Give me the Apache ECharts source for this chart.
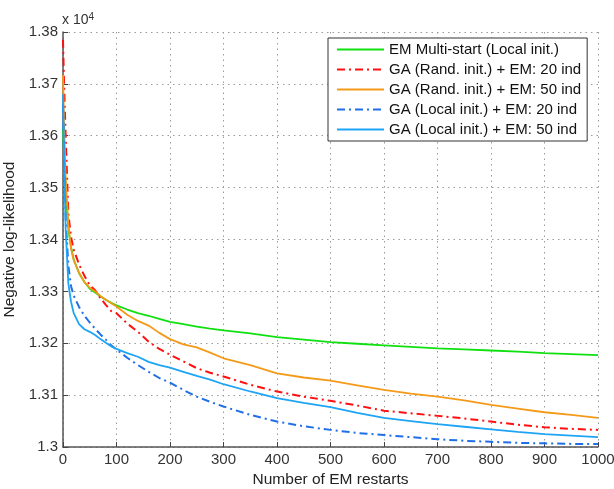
<!DOCTYPE html>
<html>
<head>
<meta charset="utf-8">
<script src="https://cdn.jsdelivr.net/npm/echarts@6/dist/echarts.min.js"></script>
<style>
html,body{margin:0;padding:0;background:#fff;}
#chart{width:614px;height:489px;}
</style>
</head>
<body>
<div id="chart"></div>
<script>
// ---- data (values in units of 1e4) ----
var restarts = [0,2,5,10,15,20,30,40,50,60,70,80,90,100,120,140,160,180,200,225,250,275,300,350,400,450,500,550,600,650,700,750,800,850,900,950,1000];

var emMultiStart = [1.3615,1.3560,1.3490,1.3420,1.3385,1.3362,1.3335,1.3318,1.3305,1.3298,1.3290,1.3284,1.3278,1.3273,1.3265,1.3258,1.3253,1.3247,1.3241,1.3237,1.3232,1.3228,1.3225,1.3219,1.3212,1.3207,1.3202,1.3199,1.3196,1.3193,1.3190,1.3188,1.3186,1.3184,1.3181,1.3179,1.3177];

var gaRand20 = [1.3785,1.3700,1.3600,1.3450,1.3405,1.3380,1.3352,1.3330,1.3312,1.3302,1.3287,1.3274,1.3262,1.3258,1.3238,1.3222,1.3203,1.3189,1.3178,1.3165,1.3152,1.3143,1.3136,1.3120,1.3107,1.3097,1.3089,1.3080,1.3070,1.3065,1.3060,1.3055,1.3049,1.3043,1.3038,1.3035,1.3033];

var gaRand50 = [1.3717,1.3620,1.3520,1.3430,1.3382,1.3360,1.3336,1.3318,1.3307,1.3300,1.3291,1.3284,1.3277,1.3271,1.3255,1.3243,1.3234,1.3220,1.3208,1.3198,1.3192,1.3182,1.3171,1.3158,1.3142,1.3134,1.3128,1.3119,1.3110,1.3103,1.3097,1.3090,1.3081,1.3074,1.3067,1.3062,1.3056];

var gaLocal20 = [1.3660,1.3560,1.3440,1.3350,1.3310,1.3292,1.3270,1.3253,1.3240,1.3228,1.3217,1.3207,1.3196,1.3188,1.3172,1.3158,1.3145,1.3133,1.3124,1.3110,1.3097,1.3087,1.3078,1.3062,1.3049,1.3040,1.3033,1.3027,1.3023,1.3019,1.3015,1.3012,1.3010,1.3008,1.3007,1.3006,1.3006];

var gaLocal50 = [1.3680,1.3560,1.3420,1.3315,1.3280,1.3258,1.3237,1.3227,1.3222,1.3216,1.3208,1.3201,1.3194,1.3189,1.3181,1.3174,1.3164,1.3158,1.3153,1.3145,1.3137,1.3130,1.3121,1.3107,1.3094,1.3085,1.3077,1.3066,1.3056,1.3050,1.3044,1.3039,1.3034,1.3029,1.3025,1.3022,1.3019];

var seriesNames = [
  'EM Multi-start (Local init.)',
  'GA (Rand. init.) + EM: 20 ind',
  'GA (Rand. init.) + EM: 50 ind',
  'GA (Local init.) + EM: 20 ind',
  'GA (Local init.) + EM: 50 ind'
];
var seriesValues = [emMultiStart, gaRand20, gaRand50, gaLocal20, gaLocal50];

var xTicks = [0,100,200,300,400,500,600,700,800,900,1000];
var yTicks = [1.30,1.31,1.32,1.33,1.34,1.35,1.36,1.37,1.38];

// ---- styles ----
var styles = [
  {color:'#10e010', width:1.8, type:'solid'},
  {color:'#ff1010', width:2, type:[8,4,2,4]},
  {color:'#f59a18', width:1.8, type:'solid'},
  {color:'#1f6fe8', width:2, type:[8,4,2,4]},
  {color:'#1ea4f5', width:1.8, type:'solid'}
];

var FONT = '"Liberation Sans", Arial, sans-serif';

function pairs(vals){
  return restarts.map(function(x,i){ return [x, vals[i]]; });
}

var series = seriesNames.map(function(n,i){
  return {
    name:n, type:'line', showSymbol:false, symbol:'none', silent:true,
    data:pairs(seriesValues[i]),
    lineStyle:{color:styles[i].color, width:styles[i].width, type:styles[i].type},
    itemStyle:{color:styles[i].color},
    z: 2 + i
  };
});

var chart = echarts.init(document.getElementById('chart'), null, {renderer:'canvas'});
chart.setOption({
  backgroundColor:'#fff',
  animation:false,
  grid:{left:63, right:16, top:32, bottom:42, containLabel:false, outerBoundsMode:'none'},
  xAxis:{
    type:'value', min:xTicks[0], max:xTicks[xTicks.length-1], interval:100,
    name:'Number of EM restarts', nameLocation:'middle', nameGap:25,
    nameTextStyle:{fontFamily:FONT, fontSize:15.5, color:'#222'},
    axisLine:{show:true, lineStyle:{color:'#555', width:1.5}},
    axisTick:{show:true, inside:true, length:5, lineStyle:{color:'#444'}},
    axisLabel:{fontFamily:FONT, fontSize:15, color:'#333', margin:5,
      formatter:function(v){ return String(v); }},
    splitLine:{show:true, lineStyle:{color:'#9a9a9a', type:[1.5,4], width:1}}
  },
  yAxis:{
    type:'value', min:yTicks[0], max:yTicks[yTicks.length-1], interval:0.01,
    name:'Negative log-likelihood', nameLocation:'middle', nameGap:44, nameRotate:90,
    nameTextStyle:{fontFamily:FONT, fontSize:15.5, color:'#222'},
    axisLine:{show:true, lineStyle:{color:'#555', width:1.5}},
    axisTick:{show:true, inside:true, length:5, lineStyle:{color:'#444'}},
    axisLabel:{fontFamily:FONT, fontSize:15, color:'#333', margin:5,
      formatter:function(v){ return String(parseFloat(v.toFixed(2))); }},
    splitLine:{show:true, lineStyle:{color:'#9a9a9a', type:[1.5,4], width:1}}
  },
  legend:{
    orient:'vertical', left:328, top:38,
    itemGap:5, itemWidth:47, itemHeight:14,
    padding:[4,6,4,8],
    borderColor:'#333', borderWidth:1, backgroundColor:'#fff',
    itemStyle:{opacity:0},
    textStyle:{fontFamily:FONT, fontSize:15, color:'#111'},
    data:seriesNames, selectedMode:false
  },
  graphic:[{
    type:'text', left:62, top:12,
    style:{
      text:'{a|x 10}{b|4}',
      rich:{
        a:{fontFamily:FONT, fontSize:14, fill:'#333'},
        b:{fontFamily:FONT, fontSize:10, fill:'#333', verticalAlign:'top', padding:[0,0,7,0]}
      }
    }
  }],
  series:series
});
</script>
</body>
</html>
